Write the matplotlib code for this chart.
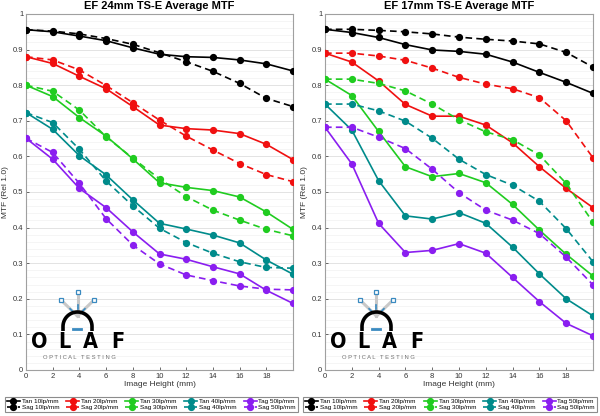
import numpy as np
import matplotlib
matplotlib.use("Agg")
import matplotlib.pyplot as plt
from matplotlib.lines import Line2D
from matplotlib.ticker import MultipleLocator, FuncFormatter

plt.rcParams['font.family'] = ['Liberation Sans', 'DejaVu Sans']

x = [0, 2, 4, 6, 8, 10, 12, 14, 16, 18, 20]
xticks = [0, 2, 4, 6, 8, 10, 12, 14, 16, 18]

titles = ["EF 24mm TS-E Average MTF", "EF 17mm TS-E Average MTF"]

# EF 24mm
tan24_10 = [0.956, 0.950, 0.938, 0.925, 0.905, 0.887, 0.880, 0.878, 0.871, 0.860, 0.840]
sag24_10 = [0.956, 0.952, 0.944, 0.931, 0.915, 0.891, 0.866, 0.839, 0.805, 0.763, 0.740]
tan24_20 = [0.880, 0.861, 0.825, 0.790, 0.740, 0.688, 0.678, 0.674, 0.664, 0.634, 0.591]
sag24_20 = [0.880, 0.871, 0.843, 0.799, 0.751, 0.702, 0.657, 0.618, 0.580, 0.549, 0.529]
tan24_30 = [0.800, 0.768, 0.709, 0.657, 0.593, 0.526, 0.513, 0.504, 0.486, 0.444, 0.395]
sag24_30 = [0.800, 0.783, 0.730, 0.655, 0.595, 0.537, 0.487, 0.449, 0.421, 0.395, 0.377]
tan24_40 = [0.723, 0.676, 0.602, 0.548, 0.478, 0.412, 0.396, 0.379, 0.357, 0.309, 0.269]
sag24_40 = [0.723, 0.695, 0.620, 0.531, 0.461, 0.398, 0.358, 0.328, 0.304, 0.288, 0.286]
tan24_50 = [0.651, 0.592, 0.510, 0.456, 0.388, 0.326, 0.311, 0.290, 0.270, 0.224, 0.187]
sag24_50 = [0.651, 0.611, 0.524, 0.425, 0.351, 0.298, 0.267, 0.251, 0.236, 0.227, 0.225]

# EF 17mm
tan17_10 = [0.957, 0.948, 0.934, 0.914, 0.899, 0.895, 0.887, 0.865, 0.836, 0.808, 0.777]
sag17_10 = [0.957, 0.957, 0.954, 0.950, 0.944, 0.935, 0.929, 0.924, 0.916, 0.892, 0.851]
tan17_20 = [0.890, 0.865, 0.812, 0.746, 0.713, 0.713, 0.688, 0.638, 0.571, 0.510, 0.456]
sag17_20 = [0.890, 0.890, 0.882, 0.870, 0.848, 0.822, 0.803, 0.790, 0.765, 0.700, 0.596]
tan17_30 = [0.817, 0.771, 0.670, 0.571, 0.543, 0.552, 0.526, 0.465, 0.393, 0.325, 0.264]
sag17_30 = [0.817, 0.817, 0.805, 0.784, 0.747, 0.703, 0.669, 0.647, 0.604, 0.524, 0.415]
tan17_40 = [0.747, 0.674, 0.532, 0.433, 0.424, 0.442, 0.412, 0.345, 0.270, 0.200, 0.152]
sag17_40 = [0.747, 0.747, 0.728, 0.699, 0.651, 0.592, 0.549, 0.519, 0.474, 0.397, 0.304]
tan17_50 = [0.682, 0.579, 0.412, 0.330, 0.336, 0.355, 0.328, 0.260, 0.192, 0.131, 0.096]
sag17_50 = [0.682, 0.682, 0.654, 0.622, 0.564, 0.498, 0.449, 0.421, 0.383, 0.317, 0.239]

tan_labels = ["Tan 10lp/mm", "Tan 20lp/mm", "Tan 30lp/mm", "Tan 40lp/mm", "Tag 50lp/mm"]
sag_labels = ["Sag 10lp/mm", "Sag 20lp/mm", "Sag 30lp/mm", "Sag 40lp/mm", "Sag 50lp/mm"]
colors = ["#000000", "#f01010", "#20cc20", "#008b8b", "#8a1ef0"]

data = [
    ([tan24_10, tan24_20, tan24_30, tan24_40, tan24_50],
     [sag24_10, sag24_20, sag24_30, sag24_40, sag24_50]),
    ([tan17_10, tan17_20, tan17_30, tan17_40, tan17_50],
     [sag17_10, sag17_20, sag17_30, sag17_40, sag17_50]),
]

W, H = 600, 416
fig = plt.figure(figsize=(6, 4.16), dpi=100)
fig.patch.set_facecolor("white")

axes_px = [(26, 14, 293, 370), (325, 14, 593, 370)]
legend_px = [(5, 387, 298, 412), (303, 387, 597, 412)]


def fx(px):
    return np.asarray(px) / W


def fy(py):
    return 1 - np.asarray(py) / H


def draw_logo(x0):
    tr = fig.transFigure
    cx, cy = x0 + 77.5, 316
    for ex, ey in [(x0 + 61, 300), (x0 + 77.5, 292), (x0 + 94, 300)]:
        fig.add_artist(Line2D([fx(cx), fx(ex)], [fy(cy), fy(ey)], transform=tr,
                              color="#c8c8c8", lw=2.2, zorder=5))
        fig.add_artist(Line2D([fx(cx + (ex - cx) * 0.3), fx(cx + (ex - cx) * 0.45)],
                              [fy(cy + (ey - cy) * 0.3), fy(cy + (ey - cy) * 0.45)],
                              transform=tr, color="#3a8ac0", lw=1.2, zorder=6))
        fig.add_artist(Line2D([fx(ex)], [fy(ey)], transform=tr, marker="s", ms=2.4,
                              mfc="white", mec="#3a8ac0", mew=0.9, zorder=6))
    t = np.linspace(np.pi, 0, 60)
    r = 14.5
    ax_ = x0 + 77.5 + r * np.cos(t)
    ay_ = 326.5 - r * np.sin(t)
    ax_ = np.concatenate([[x0 + 77.5 - r], ax_, [x0 + 77.5 + r]])
    ay_ = np.concatenate([[331], ay_, [331]])
    fig.add_artist(Line2D(fx(ax_), fy(ay_), transform=tr, color="black", lw=2.6,
                          solid_capstyle="butt", zorder=7))
    fig.add_artist(Line2D([fx(x0 + 73), fx(x0 + 81)], [fy(328.5), fy(328.5)], transform=tr,
                          color="#3a8ac0", lw=2.0, zorder=7))
    for lx, ch in [(39.5, "O"), (64, "L"), (90, "A"), (118, "F")]:
        fig.text(fx(x0 + lx), fy(342.5), ch, ha="center", va="center", fontsize=15.5,
                 fontweight="bold", family=["DejaVu Sans"], fontstretch="condensed",
                 color="black", zorder=8)
    fig.text(fx(x0 + 79), fy(357.5), "O P T I C A L   T E S T I N G", ha="center",
             va="center", fontsize=4.2, color="#707070", zorder=8)


for i in range(2):
    l, t, r, b = axes_px[i]
    ax = fig.add_axes([fx(l), fy(b), fx(r - l), fy(t) - fy(b)])
    tans, sags = data[i]
    handles = []
    for j in range(5):
        ht, = ax.plot(x, tans[j], color=colors[j], lw=1.2, marker="o", ms=4.2,
                      label=tan_labels[j], zorder=3)
        hs, = ax.plot(x, sags[j], color=colors[j], lw=1.2, ls=(0, (4, 2.5)), marker="o",
                      ms=4.2, label=sag_labels[j], zorder=3)
        handles += [ht, hs]
    ax.set_xlim(0, 20)
    ax.set_ylim(0, 1)
    ax.set_xticks(xticks)
    ax.yaxis.set_major_locator(MultipleLocator(0.1))
    ax.yaxis.set_minor_locator(MultipleLocator(0.02))
    ax.yaxis.set_major_formatter(FuncFormatter(lambda v, p: f"{round(v, 1):g}"))
    ax.grid(axis="y", which="major", color="#dedede", lw=0.6)
    ax.grid(axis="y", which="minor", color="#f2f2f2", lw=0.5)
    ax.set_axisbelow(True)
    ax.tick_params(axis="both", labelsize=5.5, colors="#333333", length=2, width=0.5,
                   pad=2, direction="in")
    ax.tick_params(axis="y", which="minor", length=0)
    for s in ax.spines.values():
        s.set_color("#a0a0a0")
        s.set_linewidth(0.8)
    ax.set_title(titles[i], fontsize=8, fontweight="bold", pad=3.5)
    ax.set_xlabel("Image Height (mm)", fontsize=6, color="#333333", labelpad=1)
    ax.set_ylabel("MTF (Rel 1.0)", fontsize=6, color="#333333", labelpad=3)

    ll, lt, lr, lb = legend_px[i]
    leg = fig.legend(handles=handles, loc="lower left", ncol=5, mode="expand",
                     bbox_to_anchor=(fx(ll), fy(lb), fx(lr - ll), fy(lt) - fy(lb)),
                     fontsize=4.6, frameon=True, fancybox=False, handlelength=2.0,
                     handletextpad=0.3, columnspacing=0.5, labelspacing=0.1,
                     borderpad=0.3, borderaxespad=0, markerscale=1.0)
    leg.get_frame().set_edgecolor("#707070")
    leg.get_frame().set_linewidth(0.8)
    draw_logo(l - 26)

fig.savefig("out.png", dpi=100, facecolor="white")
